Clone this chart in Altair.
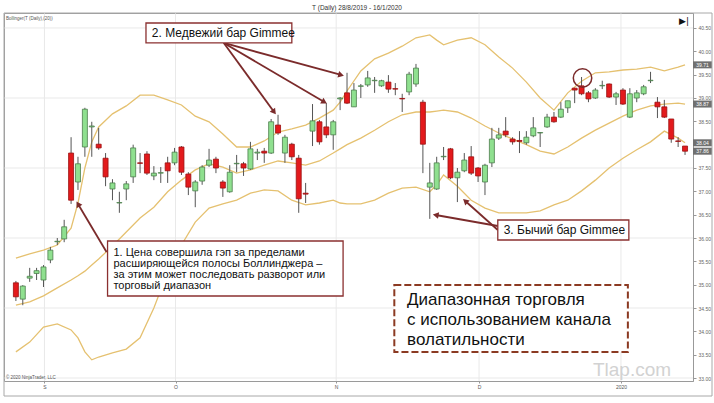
import math
import altair as alt
import pandas as pd

# ---------------- data ----------------
open_ = [35.04, 34.69, 35.14, 35.24, 35.10, 35.53, 35.92, 35.98, 37.82, 37.20,
         37.95, 38.38, 38.01, 37.71, 37.05, 36.75, 37.05, 37.31, 37.61, 37.80,
         37.33, 37.39, 37.61, 37.61, 37.95, 37.37, 37.01, 37.22, 37.56, 37.69,
         37.20, 36.99, 37.59, 37.59, 37.48, 37.82, 37.86, 37.82, 38.42, 37.82,
         38.01, 37.71, 36.96, 38.29, 38.49, 38.38, 38.21, 38.98, 39.11, 38.81,
         39.25, 39.28, 39.37, 39.26, 39.34, 39.20, 38.99, 39.13, 39.30, 38.91,
         37.09, 37.05, 37.74, 37.91, 37.29, 37.44, 37.74, 37.50, 37.20, 37.61,
         38.14, 38.29, 38.12, 38.09, 38.04, 38.19, 38.25, 38.38, 38.59, 38.59,
         38.79, 39.21, 39.26, 39.11, 39.00, 39.26, 39.30, 39.02, 39.17, 38.59,
         39.00, 39.09, 39.37, 38.91, 38.81, 38.55, 38.08, 37.97]
high = [35.08, 34.99, 35.36, 35.36, 35.42, 35.81, 36.00, 36.39, 38.16, 37.74,
        38.79, 38.49, 38.36, 37.82, 37.26, 36.99, 37.22, 38.00, 37.82, 37.86,
        37.54, 37.52, 37.74, 37.93, 37.97, 37.41, 37.24, 37.56, 37.91, 37.74,
        37.24, 37.56, 37.78, 37.63, 38.06, 37.91, 37.93, 38.55, 38.64, 38.21,
        38.04, 37.78, 37.18, 38.87, 38.53, 38.89, 38.53, 39.02, 39.54, 39.32,
        39.30, 39.58, 39.45, 39.39, 39.49, 39.32, 39.09, 39.56, 39.73, 38.96,
        37.61, 37.74, 37.95, 37.93, 37.50, 37.82, 37.97, 37.52, 37.59, 38.36,
        38.36, 38.59, 38.16, 38.29, 38.29, 38.59, 38.27, 38.66, 38.70, 38.91,
        38.94, 39.22, 39.45, 39.15, 39.21, 39.37, 39.31, 39.13, 39.21, 39.21,
        39.17, 39.28, 39.56, 39.02, 38.96, 38.55, 38.16, 37.97]
low = [34.65, 34.56, 35.06, 35.10, 34.95, 35.46, 35.85, 35.91, 36.73, 37.03,
       37.74, 37.74, 37.89, 37.11, 36.81, 36.54, 36.81, 37.18, 37.39, 37.35,
       37.24, 37.18, 37.18, 37.56, 37.35, 36.92, 36.66, 37.14, 37.52, 37.39,
       36.88, 36.97, 37.41, 37.33, 37.46, 37.67, 37.61, 37.80, 38.21, 37.61,
       37.67, 36.54, 36.75, 37.97, 38.00, 38.14, 37.89, 38.74, 38.87, 38.81,
       39.00, 39.24, 39.11, 39.24, 39.11, 39.06, 38.70, 39.06, 39.24, 37.39,
       36.41, 37.03, 37.67, 37.26, 36.77, 37.41, 37.35, 37.20, 36.92, 37.52,
       38.10, 38.16, 38.00, 37.82, 38.00, 38.16, 37.95, 38.36, 38.47, 38.57,
       38.68, 38.89, 39.06, 38.91, 38.98, 39.19, 39.00, 38.85, 38.85, 38.57,
       38.91, 39.06, 39.32, 38.57, 38.57, 38.04, 37.95, 37.78]
close = [34.74, 34.97, 35.18, 35.30, 35.38, 35.74, 35.93, 36.24, 36.81, 37.59,
         38.76, 38.40, 37.93, 37.31, 37.18, 36.76, 37.16, 37.93, 37.60, 37.39,
         37.39, 37.40, 37.44, 37.84, 37.41, 37.09, 37.20, 37.52, 37.67, 37.50,
         37.07, 37.41, 37.60, 37.50, 37.91, 37.84, 37.82, 38.49, 38.25, 38.16,
         37.74, 36.84, 36.94, 38.51, 38.06, 38.21, 38.49, 39.00, 38.89, 39.17,
         39.26, 39.43, 39.38, 39.37, 39.19, 39.19, 38.98, 39.51, 39.64, 38.01,
         37.18, 37.61, 37.75, 37.29, 37.41, 37.67, 37.39, 37.33, 37.56, 38.12,
         38.21, 38.21, 38.06, 38.07, 38.16, 38.36, 38.26, 38.59, 38.49, 38.76,
         38.94, 39.17, 39.09, 38.98, 39.17, 39.27, 39.02, 39.09, 38.87, 39.09,
         39.11, 39.24, 39.38, 38.81, 38.59, 38.12, 38.07, 37.86]

band_idx = [0, 2, 4, 6, 8, 9, 10, 11, 12, 14, 16, 18, 20, 22, 24, 26, 28, 30, 32, 34,
            36, 38, 40, 42, 44, 46, 47, 48, 50, 52, 54, 56, 58, 60, 61, 62, 64, 66, 68, 70,
            72, 74, 76, 78, 80, 82, 84, 86, 88, 90, 92, 94, 96, 97]
upper = [35.57, 35.66, 35.74, 35.85, 36.21, 36.75, 37.50, 38.06, 38.38, 38.66,
         38.83, 39.06, 39.06, 38.96, 38.85, 38.61, 38.49, 38.23, 37.95, 37.95,
         38.08, 38.27, 38.34, 38.42, 38.57, 38.74, 38.91, 39.15, 39.58, 39.84,
         39.96, 40.11, 40.29, 40.35, 40.24, 40.14, 40.24, 40.29, 40.14, 39.88,
         39.64, 39.34, 39.00, 38.74, 39.11, 39.36, 39.54, 39.56, 39.60, 39.62,
         39.66, 39.58, 39.66, 39.71]
middle = [34.56, 34.63, 34.76, 34.93, 35.10, 35.19, 35.29, 35.42, 35.55, 35.83,
          36.13, 36.43, 36.66, 36.99, 37.24, 37.46, 37.59, 37.52, 37.39, 37.46,
          37.56, 37.65, 37.61, 37.56, 37.65, 37.82, 37.91, 38.00, 38.14, 38.31,
          38.49, 38.64, 38.70, 38.70, 38.72, 38.74, 38.70, 38.57, 38.40, 38.25,
          38.12, 38.00, 37.86, 37.80, 37.95, 38.14, 38.31, 38.46, 38.61, 38.74,
          38.83, 38.87, 38.89, 38.87]
lower = [33.56, 33.77, 34.09, 34.16, 34.03, 33.86, 33.56, 33.39, 33.45, 33.54,
         33.62, 33.86, 34.50, 35.27, 35.85, 36.34, 36.64, 36.73, 36.81, 36.96,
         37.03, 37.01, 36.81, 36.71, 36.75, 36.81, 36.75, 36.73, 36.73, 36.81,
         36.96, 37.07, 37.09, 36.99, 37.14, 37.35, 37.11, 36.81, 36.64, 36.54,
         36.54, 36.54, 36.58, 36.71, 36.81, 37.01, 37.24, 37.50, 37.71, 37.89,
         38.06, 38.29, 38.14, 38.04]

# 38.00 is hidden behind the value markers in the reference
y_ticks = [33.0, 33.5, 34.0, 34.5, 35.0, 35.5, 36.0, 36.5, 37.0, 37.5,
           38.5, 39.0, 39.5, 40.0, 40.5]
y_grid = [33.0, 34.5, 36.0, 37.5, 39.0, 40.5]
month_pos = [4.14, 23.14, 46.43, 67.14, 87.71]
month_lbl = ["S", "O", "N", "D", "2020"]
marker_vals = [39.71, 38.87, 38.04, 37.86]

box1_lines = ["1. Цена совершила гэп за пределами",
              "расширяющейся полосы Боллинджера –",
              "за этим может последовать разворот или",
              "торговый диапазон"]
box2_text = "2. Медвежий бар Gimmee"
box3_text = "3. Бычий бар Gimmee"
box4_lines = ["Диапазонная торговля",
              "с использованием канала",
              "волатильности"]

# ---------------- layout ----------------
W, H = 689, 368
XDOM = [-1.0, 97.43]
YDOM = [32.936, 40.821]
PX_X = W / (XDOM[1] - XDOM[0])
PX_Y = H / (YDOM[1] - YDOM[0])
FONT = "Liberation Sans"
ARROW = "#7b2b2b"

xs = alt.Scale(domain=XDOM, nice=False, zero=False)
ys = alt.Scale(domain=YDOM, nice=False, zero=False)

label_expr = " : ".join(
    [f"abs(datum.value - {p}) < 0.5 ? '{l}'" for p, l in zip(month_pos, month_lbl)]) + " : ''"
XA = alt.Axis(values=month_pos, labelExpr=label_expr, labelFontSize=5, labelColor="#555",
              tickSize=2, tickColor="#999", domain=False, grid=False, title=None,
              labelPadding=1, labelFont=FONT)
YA = alt.Axis(orient="right", values=y_ticks, format=".2f", labelFontSize=5,
              labelColor="#666", tickSize=3, tickColor="#999", domainColor="#999",
              grid=False, title=None, labelPadding=2, labelFont=FONT)


def XQ(f):
    return alt.X(f, type="quantitative", scale=xs, axis=XA)


def YQ(f):
    return alt.Y(f, type="quantitative", scale=ys, axis=YA)


df = pd.DataFrame({"i": list(range(len(open_))), "open": open_, "high": high,
                   "low": low, "close": close})
df["dir"] = ["up" if c >= o else "down" for o, c in zip(open_, close)]

bands = pd.concat([
    pd.DataFrame({"i": band_idx, "v": upper, "band": "upper"}),
    pd.DataFrame({"i": band_idx, "v": middle, "band": "middle"}),
    pd.DataFrame({"i": band_idx, "v": lower, "band": "lower"}),
])

hgrid = alt.Chart(pd.DataFrame({"v": y_grid})).mark_rule(
    color="#e9e9e9", strokeWidth=1).encode(y=YQ("v"))
vgrid = alt.Chart(pd.DataFrame({"m": month_pos})).mark_rule(
    color="#e9e9e9", strokeWidth=1).encode(x=XQ("m"))

band_lines = alt.Chart(bands).mark_line(color="#e5c170", strokeWidth=1.3).encode(
    x=XQ("i"), y=YQ("v"), detail="band:N")

wicks = alt.Chart(df).mark_rule(color="#555555", strokeWidth=1).encode(
    x=XQ("i"), y=YQ("low"), y2="high:Q")

bodies = alt.Chart(df).mark_bar(size=5, strokeWidth=0.8).encode(
    x=XQ("i"), y=YQ("open"), y2="close:Q",
    color=alt.Color("dir:N", scale=alt.Scale(domain=["up", "down"],
                    range=["#8fe08f", "#e31a1c"]), legend=None),
    stroke=alt.Stroke("dir:N", scale=alt.Scale(domain=["up", "down"],
                      range=["#4d7d4d", "#9b1010"]), legend=None),
)

# value markers on right axis
mk = pd.DataFrame({"v": marker_vals})
mk["lo"] = mk["v"] - 0.075
mk["hi"] = mk["v"] + 0.075
mk["t"] = [f"{v:.2f}" for v in marker_vals]
mk_rect = alt.Chart(mk).mark_rect(color="#707070").encode(
    x=alt.value(689), x2=alt.value(708), y=YQ("lo"), y2="hi:Q")
mk_text = alt.Chart(mk).mark_text(fontSize=5, color="white", font=FONT).encode(
    x=alt.value(698.5), y=YQ("v"), text="t:N")

# annotation boxes
boxes = pd.DataFrame([
    {"x1": 13.286, "x2": 47.43, "y1": 35.936, "y2": 34.757},
    {"x1": 18.857, "x2": 40.0, "y1": 40.607, "y2": 40.179},
    {"x1": 69.857, "x2": 88.857, "y1": 36.386, "y2": 35.957},
])
box_rect = alt.Chart(boxes).mark_rect(fill="white", stroke="#8b3030", strokeWidth=1.3).encode(
    x=XQ("x1"), x2="x2:Q", y=YQ("y1"), y2="y2:Q")
box4 = alt.Chart(pd.DataFrame([{"x1": 54.857, "x2": 88.714, "y1": 34.993, "y2": 33.557}])
                 ).mark_rect(fill="white", stroke="#8b3a22", strokeWidth=2,
                             strokeDash=[7, 3]).encode(
    x=XQ("x1"), x2="x2:Q", y=YQ("y1"), y2="y2:Q")

# arrows: origin -> tip (data coords)
arrows = pd.DataFrame([
    {"x1": 13.14, "y1": 35.70, "x2": 9.0, "y2": 36.729},
    {"x1": 30.14, "y1": 40.179, "x2": 37.43, "y2": 38.70},
    {"x1": 30.14, "y1": 40.179, "x2": 44.71, "y2": 38.914},
    {"x1": 30.14, "y1": 40.179, "x2": 47.14, "y2": 39.493},
    {"x1": 69.857, "y1": 36.257, "x2": 60.857, "y2": 36.493},
    {"x1": 69.857, "y1": 36.171, "x2": 65.143, "y2": 36.793},
])
ang = []
for r in arrows.itertuples():
    dx = (r.x2 - r.x1) * PX_X
    dy = -(r.y2 - r.y1) * PX_Y
    ang.append(math.degrees(math.atan2(dx, -dy)) % 360)
arrows["ang"] = ang
arrow_lines = alt.Chart(arrows).mark_rule(color=ARROW, strokeWidth=1.8).encode(
    x=XQ("x1"), y=YQ("y1"), x2="x2:Q", y2="y2:Q")
arrow_heads = alt.Chart(arrows).mark_point(shape="triangle-up", filled=True, size=45,
                                            color=ARROW, opacity=1).encode(
    x=XQ("x2"), y=YQ("y2"), angle=alt.Angle("ang:Q", scale=None))

circle = alt.Chart(pd.DataFrame({"x": [82.14], "y": [39.429]})).mark_point(
    shape="circle", size=340, filled=False, color=ARROW, strokeWidth=1.5, opacity=1).encode(
    x=XQ("x"), y=YQ("y"))

# texts
t1 = pd.DataFrame({"x": [14.14] * 4, "y": [35.679, 35.443, 35.207, 34.971], "t": box1_lines})
t2 = pd.DataFrame({"x": [19.71], "y": [40.393], "t": [box2_text]})
t3 = pd.DataFrame({"x": [70.71], "y": [36.171], "t": [box3_text]})
t4 = pd.DataFrame({"x": [56.71] * 3, "y": [34.672, 34.243, 33.815], "t": box4_lines})


def txt(d, size):
    return alt.Chart(d).mark_text(align="left", baseline="middle", font=FONT,
                                  fontSize=size, color="#111111").encode(
        x=XQ("x"), y=YQ("y"), text="t:N")


chrome = alt.Chart(pd.DataFrame({"a": [1]}))
title = chrome.mark_text(fontSize=6.5, color="#333", font=FONT).encode(
    x=alt.value(353), y=alt.value(-5), text=alt.value("T (Daily) 28/8/2019 - 16/1/2020"))
ind = chrome.mark_text(fontSize=4.5, color="#555", font=FONT, align="left").encode(
    x=alt.value(2), y=alt.value(6), text=alt.value("Bollinger(T (Daily),(20))"))
copy = chrome.mark_text(fontSize=4.5, color="#555", font=FONT, align="left").encode(
    x=alt.value(2), y=alt.value(365), text=alt.value("© 2020 NinjaTrader, LLC"))
wm = chrome.mark_text(fontSize=19, color="#d2d2d2", font=FONT).encode(
    x=alt.value(628), y=alt.value(357), text=alt.value("Tlap.com"))
icon = chrome.mark_text(fontSize=9, color="#111", font="DejaVu Sans").encode(
    x=alt.value(680), y=alt.value(8), text=alt.value("▶|"))
frame = chrome.mark_rect(fill=None, stroke="#a8a8a8", strokeWidth=1).encode(
    x=alt.value(0), x2=alt.value(708), y=alt.value(0), y2=alt.value(383))

chart = alt.layer(
    hgrid, vgrid, band_lines, wicks, bodies, mk_rect, mk_text,
    arrow_lines, arrow_heads, circle, box_rect, box4,
    txt(t1, 11), txt(t2, 12), txt(t3, 12), txt(t4, 17),
    title, ind, copy, wm, icon, frame,
).properties(
    width=W, height=H,
    autosize=alt.AutoSizeParams(type="none"),
    padding={"left": 4, "top": 13, "right": 21, "bottom": 22},
    background="white",
).configure_view(stroke="#9a9a9a", strokeWidth=1)

chart.save("out.html", embed_options={"renderer": "svg", "actions": False})
